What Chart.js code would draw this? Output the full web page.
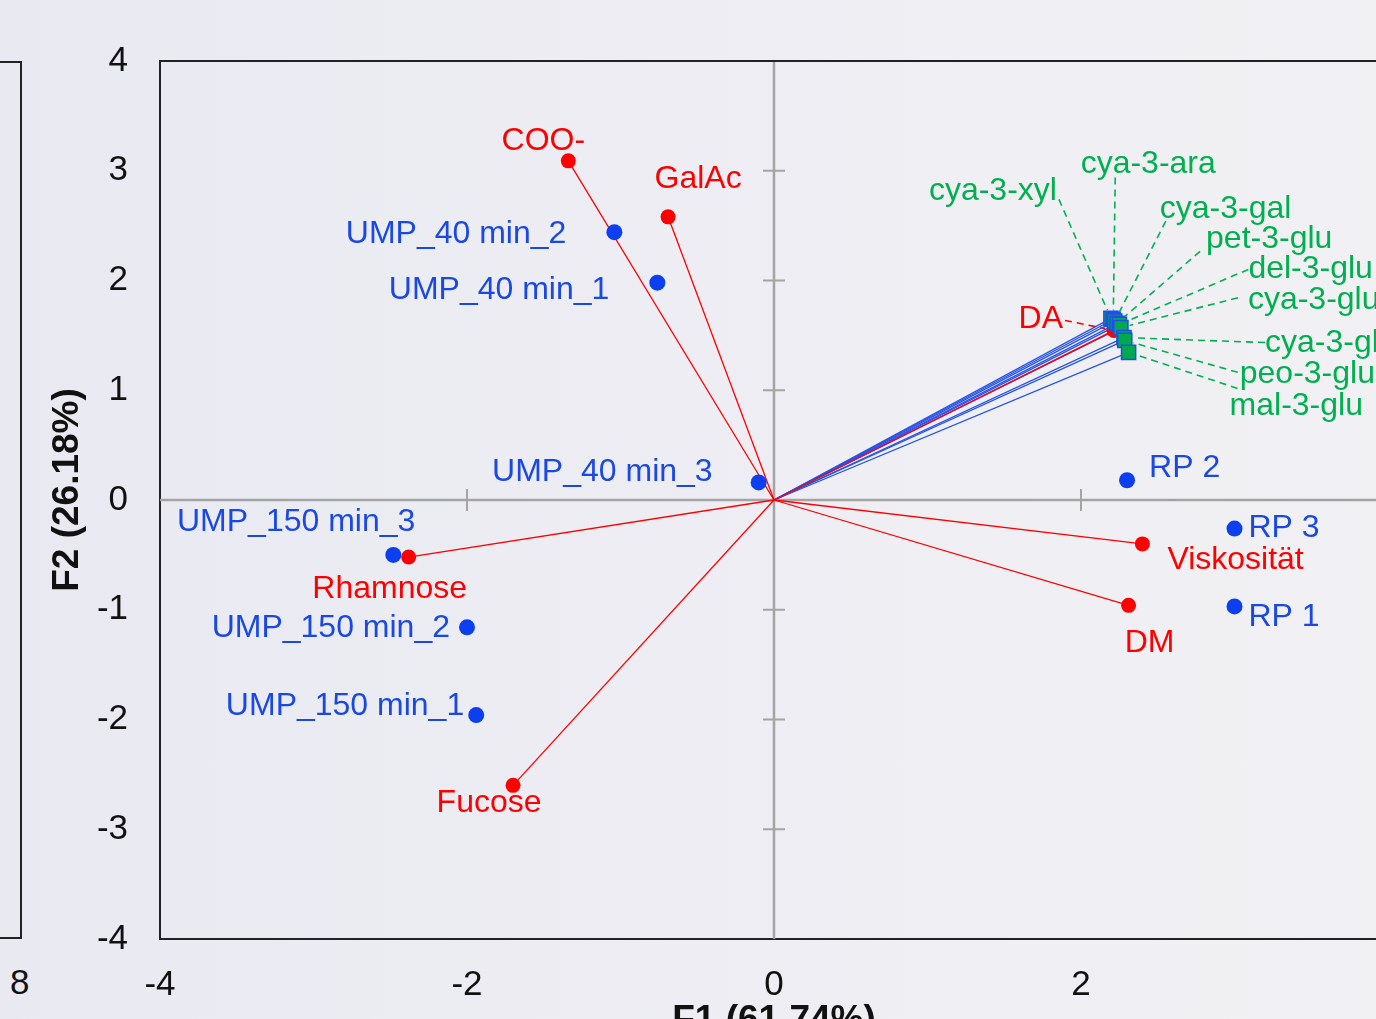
<!DOCTYPE html>
<html><head><meta charset="utf-8">
<script src="https://cdn.jsdelivr.net/npm/chart.js@4/dist/chart.umd.min.js"></script>
<style>
html,body{margin:0;padding:0;width:1376px;height:1019px;overflow:hidden;background:linear-gradient(to right,#e9e9f2,#f1f1f4);}
#wrap{position:absolute;left:0;top:0;width:1400px;height:1060px;}
#prev{position:absolute;left:-4px;top:61px;width:22px;height:874px;border:2px solid #222;}
#prev8{position:absolute;left:10px;top:962px;font:35px "Liberation Sans",Arial,sans-serif;color:#111;}
</style></head><body>
<div id="prev"></div><div id="prev8">8</div>
<div id="wrap"><canvas id="c" width="1400" height="1060"></canvas></div>
<script>
// ---- data ----
const obsNames = ['UMP_40 min_1','UMP_40 min_2','UMP_40 min_3','UMP_150 min_1','UMP_150 min_2','UMP_150 min_3','RP 1','RP 2','RP 3'];
const obsF1 = [-0.76,-1.04,-0.10,-1.94,-2.00,-2.48,3.00,2.30,3.00];
const obsF2 = [1.98,2.44,0.16,-1.96,-1.16,-0.50,-0.97,0.18,-0.26];
const varNames = ['COO-','GalAc','Rhamnose','Fucose','Viskosität','DM','DA'];
const varF1 = [-1.34,-0.69,-2.38,-1.70,2.40,2.31,2.215];
const varF2 = [3.09,2.58,-0.52,-2.60,-0.40,-0.96,1.545];
const anthoNames = ['cya-3-xyl','cya-3-ara','cya-3-gal','pet-3-glu','del-3-glu','cya-3-glu','cya-3-glu-rut','peo-3-glu','mal-3-glu'];
const anthoF1 = [2.195,2.21,2.22,2.235,2.25,2.26,2.28,2.285,2.31];
const anthoF2 = [1.655,1.645,1.63,1.61,1.60,1.57,1.48,1.455,1.345];
const xTicks = [-4,-2,0,2,4];
const yTicks = [-4,-3,-2,-1,0,1,2,3,4];
const xTitle = 'F1 (61.74%)';
const yTitle = 'F2 (26.18%)';

// ---- label layout (pixel offsets from the point) ----
const obsLab = [
  {dx:-48,dy:7,a:'right'},{dx:-48,dy:2,a:'right'},{dx:-46,dy:-10,a:'right'},
  {dx:-12,dy:-9,a:'right'},{dx:-17,dy:1,a:'right'},{dx:22,dy:-33,a:'right'},
  {dx:14,dy:11,a:'left'},{dx:22,dy:-12,a:'left'},{dx:14,dy:0,a:'left'}];
const varLab = [
  {dx:-25,dy:-20,a:'center'},{dx:30,dy:-38,a:'center'},{dx:-19,dy:32,a:'center'},
  {dx:-24,dy:18,a:'center'},{dx:25,dy:16,a:'left'},{dx:21,dy:38,a:'center'},
  {dx:-51,dy:-11,a:'right',lx:-49,ly:-10}];
const anthoLab = [
  {dx:-54,dy:-127,a:'right',lx:-52,ly:-119},
  {dx:35,dy:-155,a:'center',lx:2,ly:-142},
  {dx:45,dy:-112,a:'left',lx:51,ly:-100},
  {dx:89,dy:-84,a:'left',lx:83,ly:-72},
  {dx:129,dy:-55,a:'left',lx:129,ly:-55},
  {dx:127,dy:-28,a:'left',lx:117,ly:-30},
  {dx:141,dy:6,a:'left',lx:141,ly:5},
  {dx:115,dy:34,a:'left',lx:113,ly:32},
  {dx:101,dy:54,a:'left',lx:109,ly:36}];

const BLUE_TXT='#1a48e4', BLUE_PT='#0b3ff0', RED='#ff0000', GREEN='#00b050';
const FONT='"Liberation Sans", Arial, sans-serif';

const datasets=[];
anthoNames.forEach((n,i)=>datasets.push({type:'line',label:n,data:[{x:0,y:0},{x:anthoF1[i],y:anthoF2[i]}],
  borderColor:'#2553e8',borderWidth:1.3,pointRadius:0,fill:false,order:5}));
varNames.forEach((n,i)=>datasets.push({type:'line',label:n,data:[{x:0,y:0},{x:varF1[i],y:varF2[i]}],
  borderColor:RED,borderWidth:1.3,pointRadius:[0,7.5],pointBackgroundColor:RED,pointBorderWidth:0,fill:false,order:4}));
datasets.push({type:'scatter',label:'obs',data:obsF1.map((x,i)=>({x,y:obsF2[i]})),
  pointRadius:8,backgroundColor:BLUE_PT,borderWidth:0,order:3});
datasets.push({type:'scatter',label:'antho',data:anthoF1.map((x,i)=>({x,y:anthoF2[i]})),
  pointStyle:'rect',pointRadius:10,backgroundColor:'#00a84f',borderColor:'#1d4fe8',borderWidth:1.5,order:2});

function px(chart,x,y){return [chart.scales.x.getPixelForValue(x),chart.scales.y.getPixelForValue(y)];}

const decor={
  id:'decor',
  beforeDatasetsDraw(chart){
    const {ctx,chartArea:ca,scales:{x:xs,y:ys}}=chart;
    const x0=xs.getPixelForValue(0), y0=ys.getPixelForValue(0);
    ctx.save();
    ctx.strokeStyle='#a4a4a4'; ctx.lineWidth=2.5;
    ctx.beginPath(); ctx.moveTo(x0,ca.top); ctx.lineTo(x0,ca.bottom);
    ctx.moveTo(ca.left,y0); ctx.lineTo(ca.right,y0); ctx.stroke();
    ctx.lineWidth=2;
    ctx.beginPath();
    xTicks.forEach(v=>{ if(v!==0&&v>xs.min&&v<xs.max){const p=xs.getPixelForValue(v);ctx.moveTo(p,y0-11);ctx.lineTo(p,y0+11);} });
    yTicks.forEach(v=>{ if(v!==0&&v>ys.min&&v<ys.max){const p=ys.getPixelForValue(v);ctx.moveTo(x0-11,p);ctx.lineTo(x0+11,p);} });
    ctx.stroke();
    ctx.setLineDash([7,5]); ctx.lineWidth=1.6;
    const leader=(p,L,col)=>{
      const sx=p[0]+L.lx, sy=p[1]+L.ly;
      const ddx=p[0]-sx, ddy=p[1]-sy, d=Math.hypot(ddx,ddy), k=Math.max(0,(d-9)/d);
      ctx.strokeStyle=col; ctx.beginPath(); ctx.moveTo(sx,sy); ctx.lineTo(sx+ddx*k,sy+ddy*k); ctx.stroke();
    };
    anthoF1.forEach((v,i)=>leader(px(chart,v,anthoF2[i]),anthoLab[i],GREEN));
    varF1.forEach((v,i)=>{ if(varLab[i].lx!==undefined) leader(px(chart,v,varF2[i]),varLab[i],RED); });
    ctx.restore();
  },
  afterDatasetsDraw(chart){
    const {ctx}=chart;
    ctx.save();
    ctx.font='32px '+FONT; ctx.textBaseline='middle';
    const put=(p,L,t,col)=>{ctx.fillStyle=col; ctx.textAlign=L.a; ctx.fillText(t,p[0]+L.dx,p[1]+L.dy);};
    obsNames.forEach((t,i)=>put(px(chart,obsF1[i],obsF2[i]),obsLab[i],t,BLUE_TXT));
    varNames.forEach((t,i)=>put(px(chart,varF1[i],varF2[i]),varLab[i],t,RED));
    anthoNames.forEach((t,i)=>put(px(chart,anthoF1[i],anthoF2[i]),anthoLab[i],t,GREEN));
    ctx.restore();
  },
  afterDraw(chart){
    const {ctx,chartArea:ca}=chart;
    ctx.save();
    ctx.strokeStyle='#222'; ctx.lineWidth=2;
    ctx.beginPath(); ctx.moveTo(ca.left-1,ca.top); ctx.lineTo(ca.right+20,ca.top); ctx.stroke();
    ctx.fillStyle='#111'; ctx.font='bold 37px '+FONT; ctx.textBaseline='alphabetic'; ctx.textAlign='center';
    ctx.fillText(xTitle,(ca.left+ca.right)/2,1031);
    ctx.translate(78,490); ctx.rotate(-Math.PI/2); ctx.fillText(yTitle,0,0);
    ctx.restore();
  }
};

new Chart(document.getElementById('c').getContext('2d'),{
  type:'scatter',
  data:{datasets},
  options:{
    responsive:false,animation:false,devicePixelRatio:1,events:[],
    layout:{padding:{left:0,top:61,right:12,bottom:0}},
    plugins:{legend:{display:false},tooltip:{enabled:false}},
    scales:{
      x:{type:'linear',min:-4,max:4,
        afterBuildTicks:s=>{s.ticks=xTicks.map(v=>({value:v}));},
        afterFit:s=>{s.height=121;s.paddingLeft=0;s.paddingRight=0;},
        grid:{display:false,drawTicks:false},
        border:{display:true,color:'#222',width:2},
        ticks:{font:{family:FONT,size:35},color:'#111',padding:25,maxRotation:0,autoSkip:false}},
      y:{type:'linear',min:-4,max:4,
        afterBuildTicks:s=>{s.ticks=yTicks.map(v=>({value:v}));},
        afterFit:s=>{s.width=160;s.paddingTop=0;s.paddingBottom=0;},
        grid:{display:false,drawTicks:false},
        border:{display:true,color:'#222',width:2},
        ticks:{font:{family:FONT,size:35},color:'#111',padding:32,autoSkip:false}}
    }
  },
  plugins:[decor]
});
</script>
</body></html>
